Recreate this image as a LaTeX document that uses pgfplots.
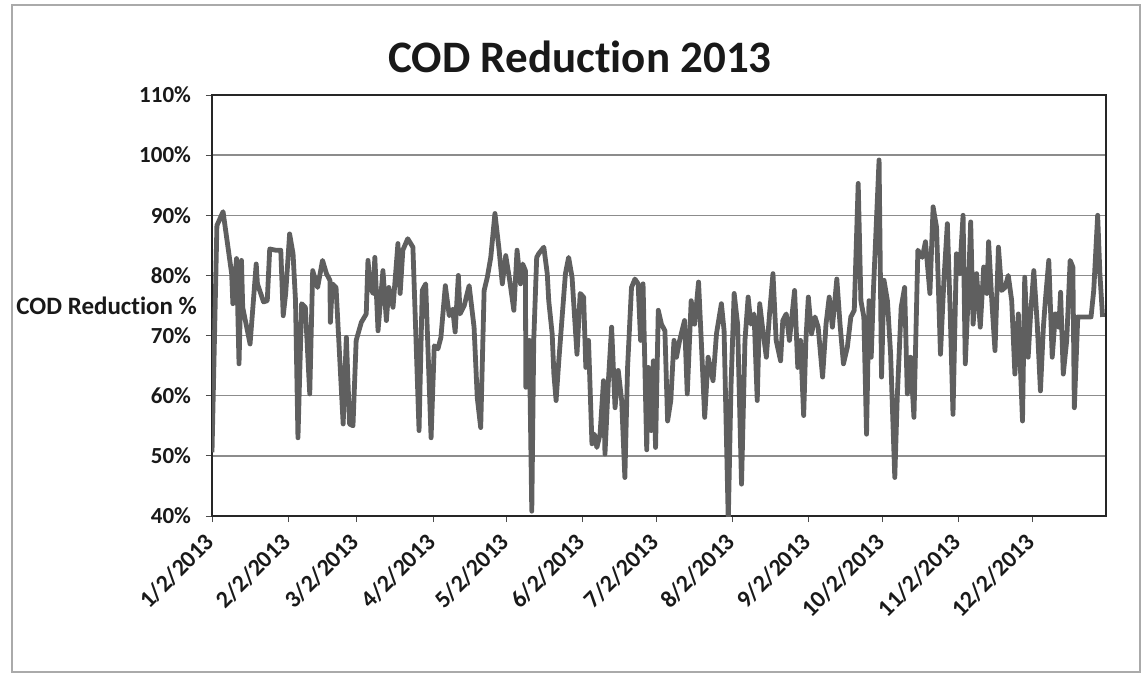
\documentclass[border=0pt]{standalone}
\usepackage{fontspec}
\setmainfont{Carlito}[Ligatures=NoCommon]
\usepackage{pgfplots}
\pgfplotsset{compat=1.18}
\definecolor{linegray}{RGB}{95,95,95}
\definecolor{gridgray}{RGB}{140,140,140}
\definecolor{framegray}{RGB}{170,170,170}
\begin{document}
\begin{tikzpicture}
\useasboundingbox (0,0) rectangle (572.5pt,337.5pt);
\draw[framegray, line width=0.6pt] (6pt,1.5pt) rectangle (570pt,335pt);
\node[font=\fontsize{22.5}{25}\selectfont\bfseries, text=black!90] at (290pt,309pt) {COD Reduction 2013};
\begin{axis}[
  at={(106pt,79.5pt)}, anchor=south west,
  scale only axis, width=447pt, height=210.5pt,
  xmin=0, xmax=364, ymin=40, ymax=110,
  xtick={0,31,59,90,120,151,181,212,243,273,304,334},
  xticklabels={1/2/2013,2/2/2013,3/2/2013,4/2/2013,5/2/2013,6/2/2013,7/2/2013,8/2/2013,9/2/2013,10/2/2013,11/2/2013,12/2/2013},
  ytick={40,50,60,70,80,90,100,110},
  yticklabels={40\%,50\%,60\%,70\%,80\%,90\%,100\%,110\%},
  ymajorgrids, major grid style={gridgray, line width=0.7pt},
  tick align=outside, major tick length=3pt,
  tick style={black!70, line width=0.5pt},
  xtick pos=bottom, ytick pos=left,
  axis line style={black!85, line width=0.8pt},
  ticklabel style={font=\fontsize{11.5}{13}\selectfont\bfseries, text=black!90},
  yticklabel style={xshift=-4pt},
  xticklabel style={xshift=1.5pt, yshift=-5.5pt, rotate=45, anchor=east, font=\fontsize{12}{14}\selectfont\bfseries},
  ylabel={COD Reduction \%},
  ylabel style={rotate=-90, at={(axis description cs:0,0.5)}, anchor=east, xshift=-4pt, font=\fontsize{12.5}{14}\selectfont\bfseries, text=black!90},
]
\addplot[linegray, line width=2.4pt, line join=round] coordinates {
(0,50.6) (2,88.3) (4.5,90.6) (8,80.3) (8.5,75.3) (10,82.8) (11,65.3) (12,82.5) (12.5,74.7) (15.5,68.6)
(18,81.9) (18.5,78.6) (21,75.6) (22.5,75.8) (23.5,84.4) (25.8,84.2) (28,84.2) (29,73.3) (30,77) (31.6,86.9)
(33,83.6) (34,75.8) (35,53) (36.5,75.3) (38,74.7) (39.8,60.3) (41,80.8) (43,78) (45,82.5) (46.6,80.3)
(48,79.2) (48.2,72.2) (49,78.6) (50.5,78) (53.4,55.3) (54.7,69.7) (56,55.3) (57.4,55) (58.7,69.2) (60.8,72.2)
(62.8,73.6) (63.5,82.5) (64.5,78) (65.6,77) (66.3,83) (67.6,70.8) (69.6,80.8) (71,72.5) (72,78) (73.7,74.7)
(75.7,85.3) (76.6,77) (77.7,84.2) (79.7,86.1) (81.8,84.7) (84.3,54.2) (85.6,77.5) (87,78.6) (89.2,53) (90.5,68.3)
(92,67.8) (93.2,69.7) (95,78.3) (96.6,73.3) (98,74.4) (99,70.6) (100.3,80) (101,73.6) (102.7,75) (104.7,78.3)
(106.7,71.4) (108,59.7) (109.4,54.7) (110.8,77.5) (112.1,79.7) (113.5,83) (115.2,90.3) (116.9,84.2) (118.2,78.6) (119.6,83.3)
(121.2,79.2) (122.9,74.2) (124.2,84.2) (125.6,78.6) (126.5,81.9) (127.6,80.8) (127.8,61.4) (129.2,69.2) (130.2,40.8) (131,69.2)
(132.2,83) (133,83.6) (135.1,84.7) (136.5,80.3) (137.1,75.8) (138.5,70.3) (139.2,63.6) (140.1,59.2) (141.2,65.8) (143.9,80.3)
(145.2,83) (146.6,79.7) (148.6,66.9) (149.9,77) (151.3,76.4) (152.2,64.7) (153.3,69.2) (154.7,52) (155.7,53.6) (156.7,51.4)
(158,53.6) (159.4,62.5) (160,50.3) (161.4,62.5) (162.7,71.4) (164.1,58) (165.4,64.2) (166.8,59.2) (168.1,46.4) (169.2,64.7)
(170.8,78) (172.2,79.4) (173.5,78.6) (174.5,69.2) (175.5,78.6) (177,51) (177.7,64.7) (178.8,54.2) (179.7,65.8) (180.6,51.4)
(181.7,74.2) (183,71.9) (184.4,70.8) (185.5,55.8) (186.8,59.2) (188.1,69.2) (189.1,66.4) (190.4,69.2) (192.4,72.5) (193.5,60.3)
(195.1,75.8) (196.5,71.9) (198.1,78.9) (199.2,69.2) (200.6,56.4) (202,66.4) (204,62.5) (205.4,70.3) (207.4,75.3) (208.5,70.8)
(210.2,39.2) (211.3,61.4) (212.6,77) (214,71.9) (215.6,45.3) (217,69.2) (218.3,76.4) (219.4,71.9) (220.7,73.6) (222,59.2)
(223,75.3) (224.3,70.8) (225.7,66.4) (227,73.6) (228.4,80.3) (229.7,69.2) (231.5,65.8) (232.4,72.5) (233.8,73.6) (235.1,69.2)
(237.2,77.5) (238.5,64.7) (239.6,69.2) (240.9,56.7) (241.8,69.2) (242.8,76.4) (244.1,70.3) (245.5,73.1) (246.8,71.4) (248.6,63.1)
(250,71.9) (251.3,76.4) (252.6,71.4) (254.4,79.4) (255.7,71.9) (257.1,65.3) (258.7,68.1) (260.1,73.1) (261.5,74.2) (263.1,95.3)
(264.2,75.8) (265.4,73.1) (266.5,53.6) (267.5,75.8) (268.4,66.4) (269.3,77.5) (271.6,99.2) (272.6,63.1) (273.6,79.2) (275,75.8)
(276.3,66.9) (278,46.4) (279,59.7) (280.6,74.7) (282,78) (283.1,60.3) (284.4,66.4) (285.8,56.4) (287.4,84.2) (289.2,83)
(290.5,85.6) (292.3,77) (293.6,91.4) (295,88) (296.6,66.9) (298,79.2) (299.4,88.6) (300.5,74.7) (301.7,56.9) (303.1,83.6)
(304.4,80.3) (305.8,90) (306.7,65.3) (307.8,75.8) (308.9,88.9) (309.9,71.9) (311.3,80.3) (312.8,71.4) (314.2,81.4) (315.5,77)
(316.2,85.6) (317.5,75.8) (318.8,67.5) (320.2,84.7) (321.5,77.5) (322.9,78) (324.2,80) (325.6,75.8) (326.9,63.6) (328.3,73.6)
(330,55.8) (330.9,79.7) (332.3,66.4) (333.3,73.6) (334.6,80.8) (336,71.9) (337.3,60.8) (338.5,71.4) (339.3,75.8) (340.7,82.5)
(342.1,66.4) (343.4,73.6) (344.8,71.4) (345.5,77.2) (346.6,63.6) (348,69.2) (349.4,82.5) (350.5,81.4) (351.1,58) (352.5,73.1)
(354.5,73.1) (356,73.1) (357.9,73.1) (359,77.5) (360.6,90) (361.5,80.3) (362.6,73.1)
};
\end{axis}
\end{tikzpicture}
\end{document}
